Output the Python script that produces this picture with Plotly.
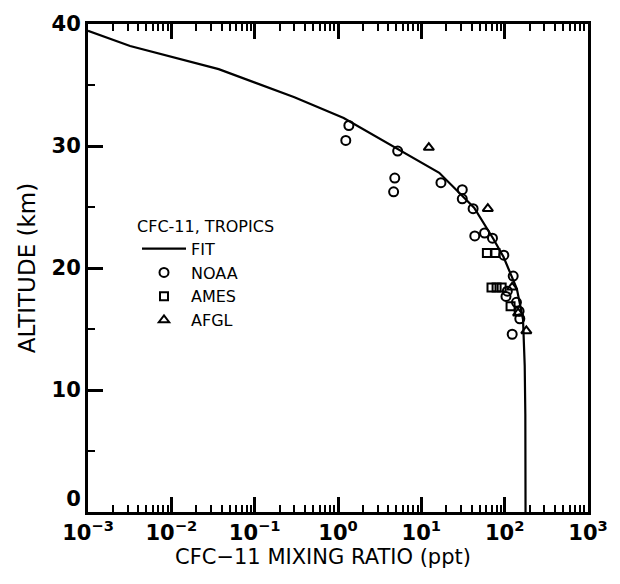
import plotly.graph_objects as go

# Fitted tropical CFC-11 profile (mixing ratio in ppt, altitude in km)
fit_ppt = [0.001, 0.0032, 0.037, 0.30, 1.17, 5.3, 16.4, 43, 73, 97, 126, 140, 166, 174, 177, 178]
fit_km = [39.45, 38.2, 36.3, 34.0, 32.3, 29.7, 27.8, 24.95, 22.4, 20.9, 19.0, 18.3, 15.8, 12.0, 8.0, 0.0]

# NOAA measurements
noaa_ppt = [1.24, 1.35, 5.2, 4.8, 4.65, 17.2, 31, 31, 41.8, 43.8, 57.4, 71.4, 97.7,
            126.6, 107.6, 103.7, 138.5, 149, 151.9, 123.1]
noaa_km = [30.46, 31.68, 29.58, 27.37, 26.24, 26.99, 26.42, 25.67, 24.86, 22.63, 22.87,
           22.44, 21.05, 19.34, 18.1, 17.67, 17.19, 16.46, 15.84, 14.57]

# AMES measurements
ames_ppt = [61.2, 77.5, 69.5, 80, 92, 117.7]
ames_km = [21.23, 21.23, 18.4, 18.4, 18.4, 16.86]

# AFGL measurements
afgl_ppt = [12.3, 62.8, 123, 145, 182]
afgl_km = [29.87, 24.86, 18.42, 16.3, 14.84]

# Axis ticks
x_tickvals = [1e-3, 1e-2, 1e-1, 1e0, 1e1, 1e2, 1e3]
x_ticktext = ["10<sup>−3</sup>", "10<sup>−2</sup>", "10<sup>−1</sup>", "10<sup>0</sup>",
              "10<sup>1</sup>", "10<sup>2</sup>", "10<sup>3</sup>"]
y_tickvals = [0, 10, 20, 30, 40]
y_ticktext = ["0<br>\u00a0", "10", "20", "30", "40"]

FONT = "DejaVu Sans"
INK = "black"

fig = go.Figure()
fig.add_trace(go.Scatter(x=fit_ppt, y=fit_km, mode="lines", name="FIT",
                         line=dict(color=INK, width=2.2)))
fig.add_trace(go.Scatter(x=noaa_ppt, y=noaa_km, mode="markers", name="NOAA",
                         marker=dict(symbol="circle-open", size=9, color=INK,
                                     line=dict(width=2, color=INK))))
fig.add_trace(go.Scatter(x=ames_ppt, y=ames_km, mode="markers", name="AMES",
                         marker=dict(symbol="square-open", size=8, color=INK,
                                     line=dict(width=2, color=INK))))
fig.add_trace(go.Scatter(x=afgl_ppt, y=afgl_km, mode="markers", name="AFGL",
                         marker=dict(symbol="triangle-up-open", size=9, color=INK,
                                     line=dict(width=2, color=INK))))
# Invisible companion trace so the right-hand frame axis gets drawn
fig.add_trace(go.Scatter(x=fit_ppt[-1:], y=fit_km[-1:], yaxis="y2", mode="markers",
                         marker=dict(opacity=0), showlegend=False, hoverinfo="skip"))

fig.update_layout(
    width=620, height=584,
    margin=dict(l=88, r=25, t=16, b=72),
    paper_bgcolor="white", plot_bgcolor="white",
    font=dict(family=FONT, color=INK),
    showlegend=True,
    legend=dict(
        x=0.094, y=0.617, xanchor="left", yanchor="top",
        bgcolor="rgba(0,0,0,0)",
        title=dict(text="CFC-11, TROPICS", font=dict(size=16, family=FONT)),
        font=dict(size=16, family=FONT),
        itemwidth=44, indentation=2, tracegroupgap=0,
    ),
    xaxis=dict(
        type="log", range=[-3, 3],
        tickmode="array", tickvals=x_tickvals, ticktext=x_ticktext,
        ticks="inside", ticklen=15, tickwidth=2.5, tickcolor=INK,
        minor=dict(dtick="D1", ticks="inside", ticklen=7, tickwidth=2,
                   tickcolor=INK, showgrid=False),
        showline=True, linewidth=3, linecolor=INK, mirror="ticks",
        showgrid=False, zeroline=False,
        tickfont=dict(size=21, family=FONT, weight="bold"),
    ),
    yaxis=dict(
        range=[0, 40],
        tickmode="array", tickvals=y_tickvals, ticktext=y_ticktext,
        ticks="inside", ticklen=15, tickwidth=2.5, tickcolor=INK,
        minor=dict(dtick=5, tick0=0, ticks="inside", ticklen=7, tickwidth=2,
                   tickcolor=INK, showgrid=False),
        showline=True, linewidth=3, linecolor=INK, mirror=False,
        showgrid=False, zeroline=False,
        tickfont=dict(size=21, family=FONT, weight="bold"),
        title=dict(text="ALTITUDE (km)", font=dict(size=23, family=FONT), standoff=10),
    ),
    yaxis2=dict(
        range=[0, 40], overlaying="y", side="right",
        showline=True, linewidth=3, linecolor=INK,
        ticks="", showticklabels=False, showgrid=False, zeroline=False,
    ),
    annotations=[dict(
        text="CFC−11 MIXING RATIO (ppt)", xref="paper", yref="paper",
        x=0.47, y=-0.093, xanchor="center", yanchor="middle", showarrow=False,
        font=dict(size=21, family=FONT, color=INK),
    )],
)

fig.write_html("out.html")
